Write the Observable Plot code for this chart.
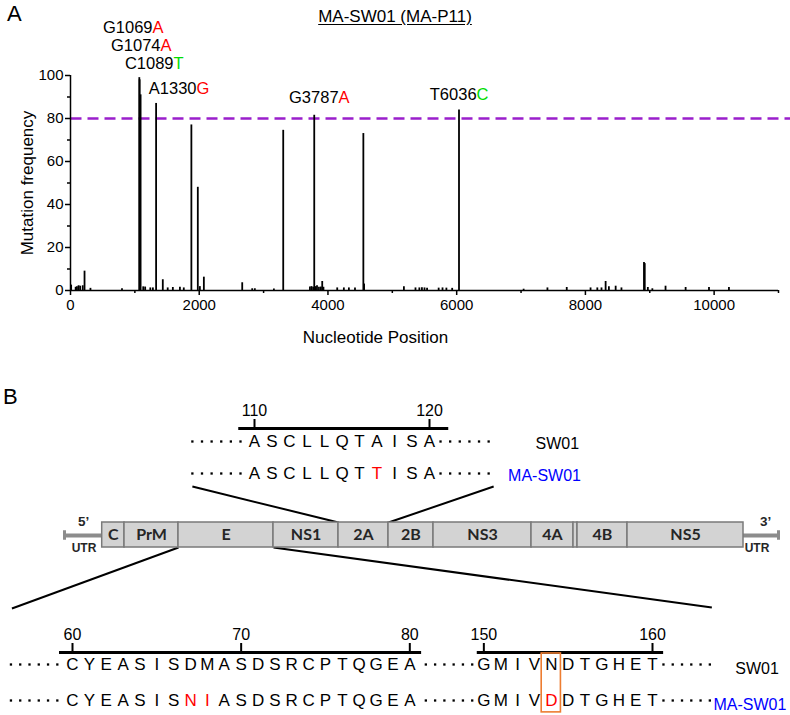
<!DOCTYPE html>
<html>
<head>
<meta charset="utf-8">
<script src="https://cdn.jsdelivr.net/npm/d3@7"></script>
<script src="https://cdn.jsdelivr.net/npm/@observablehq/plot@0.6"></script>
<style>
  html,body{margin:0;padding:0;background:#fff;}
  #fig{position:relative;width:790px;height:715px;overflow:hidden;font-family:Arial,"Liberation Sans",sans-serif;color:#000;}
  .layer{position:absolute;left:0;}
  .layer svg{overflow:visible;display:block;}
  .panel{position:absolute;font-size:22px;line-height:22px;}
  #title{position:absolute;left:0;width:790px;text-align:center;font-size:17px;line-height:17px;top:8px;}
  #title span{text-decoration:underline;text-underline-offset:2px;}
</style>
</head>
<body>
<div id="fig">
  <div class="panel" style="left:7px;top:3px">A</div>
  <div id="title"><span>MA-SW01 (MA-P11)</span></div>
  <div class="panel" style="left:3px;top:386px">B</div>
</div>
<script>
// ================= DATA =================
// Panel A: mutation frequency per nucleotide position
const positions = [10,80,100,125,150,190,218,310,800,1069,1074,1089,1130,1160,1240,1280,1330,1434,1510,1590,1700,1760,1878,1978,2010,2072,2668,2823,2864,3160,3305,3720,3745,3770,3787,3810,3830,3860,3890,3911,3930,4144,4247,4325,4420,4550,4562,5180,5360,5420,5460,5500,5540,5720,5780,5840,5930,6036,7040,7410,7710,8080,8185,8250,8314,8365,8470,8560,8910,8922,8970,9040,9245,9557,9920,10230];
const frequencies = [2.5,1.5,1.8,2.2,2.0,2.2,9,1.0,0.8,99,98,91,1.7,1.6,1.2,1.2,87,5,1.2,1.4,1.5,1.2,77,48,1.8,6.2,3.6,0.8,0.8,0.7,74.5,1.6,1.8,1.5,81.5,1.8,2.2,1.5,1.6,4.2,1.5,1.2,1.2,1.2,1.2,73,3,1.8,1.2,1.2,1.3,1.2,1.0,1.1,1.2,1.1,1.0,84,0.6,1.2,1.4,1.2,1.2,1.2,4.2,1.7,2.0,1.2,13,12.5,1.4,0.8,2,1.4,1.4,1.4];
const threshold = 80;
const xTicks = [0,2000,4000,6000,8000,10000];
const xMinorTicks = [1000,3000,5000,7000,9000,11000];
const yTicks = [0,20,40,60,80,100];
const yMinorTicks = [10,30,50,70,90];
const mutLabels = ["G1069","G1074","C1089","A1330","G3787","T6036"];
const mutAlt = ["A","A","T","G","A","C"];

// Panel B: genome organisation
const geneNames = ["C","PrM","E","NS1","2A","2B","NS3","4A","","4B","NS5"];
const geneWidths = [22.3,54,95,65,50,45,98,42,4,50,116];

// Panel B: sequences
const rowNames = ["SW01","MA-SW01"];
const topStart = 110;
const topRef = "ASCLLQTAISA";
const topMut = "ASCLLQTTISA";
const topTicks = [110,120];
const botStartA = 60;
const botRefA = "CYEASISDMASDSRCPTQGEA";
const botMutA = "CYEASISNIASDSRCPTQGEA";
const botStartB = 150;
const botRefB = "GMIVNDTGHET";
const botMutB = "GMIVDDTGHET";
const botTicks = [60,70,80,150,160];
const boxedResidue = 154;

// ================= STYLE / LAYOUT =================
const FONT = "Arial, 'Liberation Sans', sans-serif";
const RED = "#ff0000", GREEN = "#00dd00", BLUE = "#0000ff";
const baseColor = {A:RED, G:RED, T:GREEN, C:GREEN};
const labelLayout = {splitX:[1274,1399,1601,1958,4165,6309], baseY:[119.8,111.2,102.8,91.2,87,88.8]};

const fig = document.getElementById("fig");
function addLayer(el, top){
  const d = document.createElement("div");
  d.className = "layer"; d.style.top = top + "px";
  d.appendChild(el); fig.appendChild(d);
}
const baseStyle = {background:"transparent", fontFamily:FONT, color:"#000", overflow:"visible"};

// ================= PANEL A =================
const bars = positions.map((p,i)=>({pos:p, freq:frequencies[i]}));
const labs = mutLabels.map((n,i)=>({name:n, alt:mutAlt[i], x:labelLayout.splitX[i], y:labelLayout.baseY[i]}));

const plotA = Plot.plot({
  width:790, height:360, marginLeft:70, marginRight:12, marginTop:75, marginBottom:70,
  style:{...baseStyle, fontSize:"15px"},
  x:{domain:[0,11000], label:null},
  y:{domain:[0,100], label:null},
  color:{type:"identity"},
  marks:[
    Plot.link([threshold], {x1:0, x2:11180, y1:d=>d, y2:d=>d, stroke:"#9a1fcc", strokeWidth:2.6, strokeDasharray:"11,6"}),
    Plot.ruleX(bars, {x:"pos", y1:0, y2:"freq", stroke:"#000", strokeWidth:1.8}),
    Plot.ruleY([0], {strokeWidth:1.5}),
    Plot.ruleX([0], {strokeWidth:1.5}),
    Plot.axisX({ticks:xTicks, tickSize:5, tickPadding:4, tickFormat:"d", label:null, strokeWidth:1.5, fontSize:15}),
    Plot.axisX({ticks:xMinorTicks, tickSize:3, tickFormat:()=>"", label:null, strokeWidth:1.5}),
    Plot.axisY({ticks:yTicks, tickSize:5, tickPadding:2, tickFormat:"d", label:null, strokeWidth:1.5, fontSize:15}),
    Plot.axisY({ticks:yMinorTicks, tickSize:3, tickFormat:()=>"", label:null, strokeWidth:1.5}),
    Plot.text(["Mutation frequency"], {frameAnchor:"left", dx:-43, rotate:-90, textAnchor:"middle", lineAnchor:"middle", fontSize:17}),
    Plot.text(["Nucleotide Position"], {frameAnchor:"bottom", dx:-49, dy:47, textAnchor:"middle", lineAnchor:"middle", fontSize:17}),
    Plot.text(labs, {x:"x", y:"y", text:"name", textAnchor:"end", lineAnchor:"bottom", fontSize:16.5, fill:"#000"}),
    Plot.text(labs, {x:"x", y:"y", text:"alt", textAnchor:"start", lineAnchor:"bottom", fontSize:16.5, fill:d=>baseColor[d.alt]})
  ]
});
addLayer(plotA, 0);

// ================= PANEL B helpers =================
function residueRows(ref, mut, start, toCol){
  const out = [];
  for (let i=0;i<ref.length;i++){
    out.push({col:toCol(start+i), row:0, aa:ref[i], color:"#000"});
    out.push({col:toCol(start+i), row:1, aa:mut[i], color: mut[i]!==ref[i] ? RED : "#000"});
  }
  return out;
}
function dotRun(from, step, n){
  const out = [];
  for (let r=0;r<2;r++) for (let k=0;k<n;k++) out.push({col:from + k*step, row:r});
  return out;
}

// ---- top sequence (NS2A 110-120)
const topL = {top:380, height:110, barY:48, row0:61, row1:93, xDom:[110,120], xRange:[254,429], barExt:[109.1,121.1], dotStep:0.55, dotsBefore:106.45, dotsAfter:120.63, labelX:[126.06,124.49]};
const topScale = d3.scaleLinear().domain(topL.xDom).range(topL.xRange);
const topRes = residueRows(topRef, topMut, topStart, r=>r);
const topDots = [...dotRun(topL.dotsBefore, topL.dotStep, 6), ...dotRun(topL.dotsAfter, topL.dotStep, 6)];
const topBarY = (topL.barY - topL.row0)/(topL.row1 - topL.row0);
const plotTop = Plot.plot({
  width:790, height:topL.height, marginTop:topL.barY, marginBottom:0, marginLeft:0, marginRight:0,
  style:{...baseStyle, fontSize:"16px"},
  x:{domain:topL.xDom, range:topL.xRange, label:null},
  y:{domain:[0,1], range:[topL.row0, topL.row1], label:null, axis:null},
  color:{type:"identity"},
  marks:[
    Plot.ruleY([topBarY], {x1:topL.barExt[0], x2:topL.barExt[1], strokeWidth:3}),
    Plot.axisX({anchor:"top", ticks:topTicks, tickSize:10, tickPadding:3, strokeWidth:2, fontSize:16, label:null, tickFormat:"d"}),
    Plot.text(topRes, {x:"col", y:"row", text:"aa", fill:"color", fontSize:17}),
    Plot.dot(topDots, {x:"col", y:"row", r:1.3, symbol:"square", fill:"#000", stroke:null}),
    Plot.text(rowNames.map((n,i)=>({n, row:i, x:topL.labelX[i], c:i?BLUE:"#000"})), {x:"x", y:"row", text:"n", fill:"c", textAnchor:"start", fontSize:16, dy:2})
  ]
});
addLayer(plotTop, topL.top);

// ---- bottom sequences (E 60-80, 150-160)
const botL = {top:600, height:115, barY:52, row0:64, row1:100, xDom:[60,94.39], xRange:[72,652], gapCol:84.39, dotStep:0.55, dotsBefore:56.35, dotsMid:80.95, dotsAfter:95.04, barExt:[[59.23,80.7],[84.0,95.05]], labelX:[99.3,98.0], boxHalf:0.57, boxY:[-0.306,1.33]};
const toCol = r => r < botStartB ? r : r - botStartB + botL.gapCol;
const botScale = d3.scaleLinear().domain(botL.xDom).range(botL.xRange);
const botRes = [...residueRows(botRefA, botMutA, botStartA, toCol), ...residueRows(botRefB, botMutB, botStartB, toCol)];
const botDots = [...dotRun(botL.dotsBefore, botL.dotStep, 6), ...dotRun(botL.dotsMid, botL.dotStep, 6), ...dotRun(botL.dotsAfter, botL.dotStep, 6)];
const botBarY = (botL.barY - botL.row0)/(botL.row1 - botL.row0);
const tickCols = botTicks.map(toCol);
const tickLab = new Map(botTicks.map(t=>[toCol(t), String(t)]));
const plotBot = Plot.plot({
  width:790, height:botL.height, marginTop:botL.barY, marginBottom:0, marginLeft:0, marginRight:0,
  style:{...baseStyle, fontSize:"16px"},
  x:{domain:botL.xDom, range:botL.xRange, label:null},
  y:{domain:[0,1], range:[botL.row0, botL.row1], label:null, axis:null},
  color:{type:"identity"},
  marks:[
    Plot.ruleY(botL.barExt, {y:botBarY, x1:d=>d[0], x2:d=>d[1], strokeWidth:3}),
    Plot.axisX({anchor:"top", ticks:tickCols, tickSize:10, tickPadding:3, strokeWidth:2, fontSize:16, label:null, tickFormat:d=>tickLab.get(d)}),
    Plot.rect([boxedResidue], {x1:d=>toCol(d)-botL.boxHalf, x2:d=>toCol(d)+botL.boxHalf, y1:botL.boxY[0], y2:botL.boxY[1], fill:"none", stroke:"#ed7d31", strokeWidth:1.6}),
    Plot.text(botRes, {x:"col", y:"row", text:"aa", fill:"color", fontSize:17}),
    Plot.dot(botDots, {x:"col", y:"row", r:1.3, symbol:"square", fill:"#000", stroke:null}),
    Plot.text(rowNames.map((n,i)=>({n, row:i, x:botL.labelX[i], c:i?BLUE:"#000"})), {x:"x", y:"row", text:"n", fill:"c", textAnchor:"start", fontSize:16, dy:4})
  ]
});
addLayer(plotBot, botL.top);

// ---- genome diagram
const genL = {top:480, height:100, start:101.7, boxTop:42, boxBot:67, utr5:[63,101.7], utr3:[743,780], capW:3, capH:0.19};
let acc = genL.start;
const genes = geneNames.map((g,i)=>{ const s = acc; acc += geneWidths[i]; return {name:g, x1:s, x2:acc}; });
const pageToGenY = y => (y - genL.top - genL.boxTop)/(genL.boxBot - genL.boxTop);
const gene = n => genes.find(g=>g.name===n);
const topRowPageY = 486, botRowPageY = 608;
const links = [
  {x1:gene("2A").x1, y1:0, x2:topScale(topL.dotsBefore), y2:pageToGenY(topRowPageY)},
  {x1:gene("2A").x2, y1:0, x2:topScale(topL.dotsAfter + 5*topL.dotStep)+5, y2:pageToGenY(topRowPageY)},
  {x1:gene("E").x1, y1:1, x2:botScale(botL.dotsBefore)+1, y2:pageToGenY(botRowPageY)},
  {x1:gene("E").x2, y1:1, x2:botScale(botL.dotsAfter + 5*botL.dotStep)+2, y2:pageToGenY(botRowPageY-1)}
];
const utrs = [{a:genL.utr5[0], b:genL.utr5[1], cap:genL.utr5[0]}, {a:genL.utr3[0], b:genL.utr3[1], cap:genL.utr3[1]-genL.capW}];
const utrLabels = [
  {t:"5\u2019", x:83, y:-0.05, s:13.5}, {t:"UTR", x:83.5, y:1.02, s:12},
  {t:"3\u2019", x:765, y:-0.05, s:13.5}, {t:"UTR", x:756.5, y:1.02, s:12}
];
const plotGen = Plot.plot({
  width:790, height:genL.height, margin:0,
  style:{...baseStyle, fontSize:"14px"},
  x:{domain:[0,790], range:[0,790], axis:null},
  y:{domain:[0,1], range:[genL.boxTop, genL.boxBot], axis:null},
  marks:[
    Plot.link(links, {x1:"x1", y1:"y1", x2:"x2", y2:"y2", stroke:"#000", strokeWidth:2}),
    Plot.ruleY(utrs, {y:0.52, x1:"a", x2:"b", stroke:"#8c8c8c", strokeWidth:4}),
    Plot.rect(utrs, {x1:"cap", x2:d=>d.cap+genL.capW, y1:0.52-genL.capH, y2:0.52+genL.capH, fill:"#8c8c8c"}),
    Plot.rect(genes, {x1:"x1", x2:"x2", y1:0, y2:1, fill:"#d3d3d3", stroke:"#7a7a7a", strokeWidth:1.5}),
    Plot.text(genes, {x:d=>(d.x1+d.x2)/2, y:0.5, text:"name", fontWeight:"bold", fontSize:16, fontFamily:"Lato, 'Open Sans', sans-serif", fill:"#262626"}),
    Plot.text(utrLabels.slice(0,1), {x:"x", y:"y", text:"t", fontWeight:"bold", fontSize:13.5, fontFamily:FONT, fill:"#262626"}),
    Plot.text(utrLabels.slice(2,3), {x:"x", y:"y", text:"t", fontWeight:"bold", fontSize:13.5, fontFamily:FONT, fill:"#262626"}),
    Plot.text([utrLabels[1], utrLabels[3]], {x:"x", y:"y", text:"t", fontWeight:"bold", fontSize:12, fontFamily:FONT, fill:"#262626"})
  ]
});
addLayer(plotGen, genL.top);
</script>
</body>
</html>
